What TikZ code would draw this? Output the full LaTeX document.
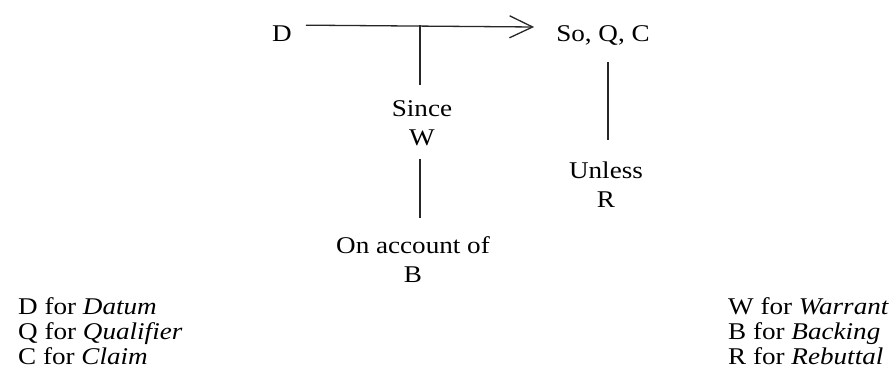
\documentclass[tikz,border=0pt]{standalone}
\usepackage{fontspec}
\setmainfont{Liberation Serif}[FakeStretch=1.13]
\usetikzlibrary{arrows.meta,calc}
\begin{document}
\begin{tikzpicture}[x=1pt,y=-1pt,
  lbl/.style={font=\fontsize{24}{29}\selectfont, align=center, inner sep=0pt},
  legend/.style={font=\fontsize{24}{25}\selectfont, align=left, inner sep=0pt, anchor=north west},
  conn/.style={line width=1.3pt, draw=black!85},
  tip/.style={-{Straight Barb[length=23pt,width=22pt,line width=1.3pt]}}]
\useasboundingbox (0,0) rectangle (891,380);
\node[lbl, anchor=base] (D) at (282,41) {D};
\node[lbl, anchor=base] (SQC) at (603,41) {So, Q, C};
\node[lbl, anchor=north] (Since) at (422,100) {Since\\W};
\node[lbl, anchor=north] (OnAcc) at (413,236) {On account of\\B};
\node[lbl, anchor=north] (Unless) at (606,162) {Unless\\R};
\coordinate (junction) at (420,25);
\draw[conn, tip] ($(D.east)+(14,-8)$) -- ($(SQC.west)+(-22,-8)$);
\draw[conn] (junction) -- ($(Since.north -| junction)+(0,-15)$);
\draw[conn] ($(Since.south -| junction)+(0,13)$) -- ($(OnAcc.north -| junction)+(0,-18)$);
\draw[conn] ($(Unless.north |- SQC.south)+(2,17)$) -- ($(Unless.north)+(2,-22)$);
\node[legend] (legL) at (18,297) {D for \textit{Datum}\\Q for \textit{Qualifier}\\C for \textit{Claim}};
\node[legend] (legR) at (728,297) {W for \textit{Warrant}\\B for \textit{Backing}\\R for \textit{Rebuttal}};
\end{tikzpicture}
\end{document}
